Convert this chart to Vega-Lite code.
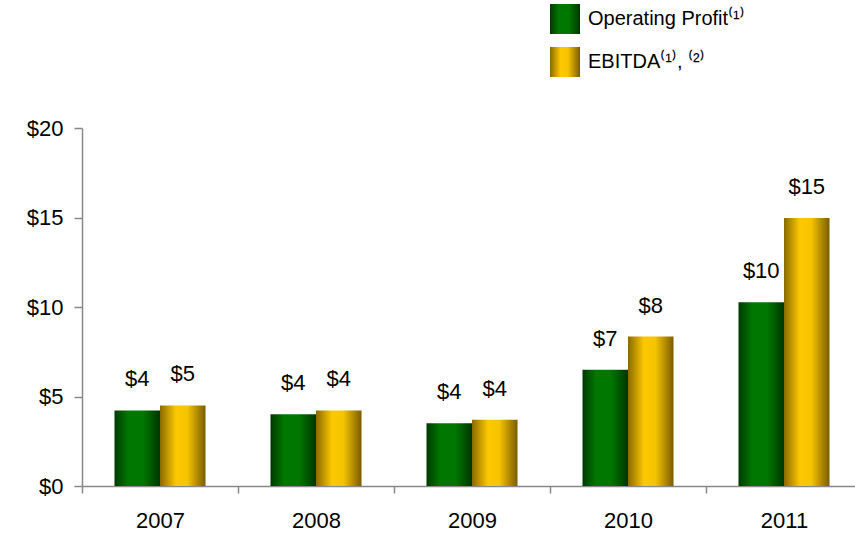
{
  "$schema": "https://vega.github.io/schema/vega-lite/v6.json",
  "autosize": {"type": "none"},
  "padding": {"left": 82, "top": 128, "right": 0, "bottom": 49},
  "width": 773,
  "height": 358,
  "background": "white",
  "config": {
    "view": {"stroke": null},
    "font": "Liberation Sans",
    "axis": {"domainColor": "#888888", "tickColor": "#888888", "labelColor": "#000000", "labelFont": "Liberation Sans", "grid": false, "domainWidth": 1.5, "tickWidth": 1.5}
  },
  "data": {
    "values": [
      {"year": "2007", "series": "Operating Profit⁽¹⁾", "value": 4.22},
      {"year": "2007", "series": "EBITDA⁽¹⁾, ⁽²⁾", "value": 4.5},
      {"year": "2008", "series": "Operating Profit⁽¹⁾", "value": 4.01},
      {"year": "2008", "series": "EBITDA⁽¹⁾, ⁽²⁾", "value": 4.22},
      {"year": "2009", "series": "Operating Profit⁽¹⁾", "value": 3.5},
      {"year": "2009", "series": "EBITDA⁽¹⁾, ⁽²⁾", "value": 3.7},
      {"year": "2010", "series": "Operating Profit⁽¹⁾", "value": 6.5},
      {"year": "2010", "series": "EBITDA⁽¹⁾, ⁽²⁾", "value": 8.35},
      {"year": "2011", "series": "Operating Profit⁽¹⁾", "value": 10.27},
      {"year": "2011", "series": "EBITDA⁽¹⁾, ⁽²⁾", "value": 14.97}
    ]
  },
  "encoding": {
    "x": {
      "field": "year", "type": "nominal",
      "scale": {"range": [0, 780], "paddingInner": 0, "paddingOuter": 0},
      "axis": {"title": null, "labelAngle": 0, "labelFontSize": 22, "tickSize": 7, "labelPadding": 17, "tickBand": "extent"}
    },
    "xOffset": {
      "field": "series", "type": "nominal",
      "sort": ["Operating Profit⁽¹⁾", "EBITDA⁽¹⁾, ⁽²⁾"],
      "scale": {"paddingInner": 0, "paddingOuter": 0.714}
    },
    "y": {
      "field": "value", "type": "quantitative",
      "scale": {"domain": [0, 20], "nice": false},
      "axis": {"title": null, "values": [0, 5, 10, 15, 20], "labelExpr": "'$' + datum.value", "labelFontSize": 22, "tickSize": 8, "labelPadding": 11}
    }
  },
  "layer": [
    {
      "mark": {"type": "bar"},
      "encoding": {
        "color": {
          "field": "series", "type": "nominal",
          "sort": ["Operating Profit⁽¹⁾", "EBITDA⁽¹⁾, ⁽²⁾"],
          "scale": {
            "domain": ["Operating Profit⁽¹⁾", "EBITDA⁽¹⁾, ⁽²⁾"],
            "range": [
              {"expr": "{gradient: 'linear', x1: 0, y1: 0, x2: 1, y2: 0, stops: [{offset: 0, color: '#003a00'}, {offset: 0.3, color: '#007800'}, {offset: 0.62, color: '#007800'}, {offset: 1, color: '#003600'}]}"},
              {"expr": "{gradient: 'linear', x1: 0, y1: 0, x2: 1, y2: 0, stops: [{offset: 0, color: '#8a6a00'}, {offset: 0.35, color: '#fcc800'}, {offset: 0.6, color: '#f6c400'}, {offset: 1, color: '#7a5c00'}]}"}
            ]
          },
          "legend": {
            "title": null, "orient": "none", "legendX": 468, "legendY": -124,
            "symbolType": "square", "symbolSize": 900, "symbolStrokeWidth": 0,
            "labelFontSize": 20, "labelFont": "Liberation Sans", "labelColor": "#000000",
            "labelOffset": 8, "rowPadding": 13, "labelLimit": 300
          }
        }
      }
    },
    {
      "mark": {"type": "text", "fontSize": 22, "dy": -24, "baseline": "alphabetic", "color": "#000000", "font": "Liberation Sans"},
      "encoding": {
        "text": {"field": "value", "type": "quantitative", "format": "$.0f"}
      }
    }
  ]
}
